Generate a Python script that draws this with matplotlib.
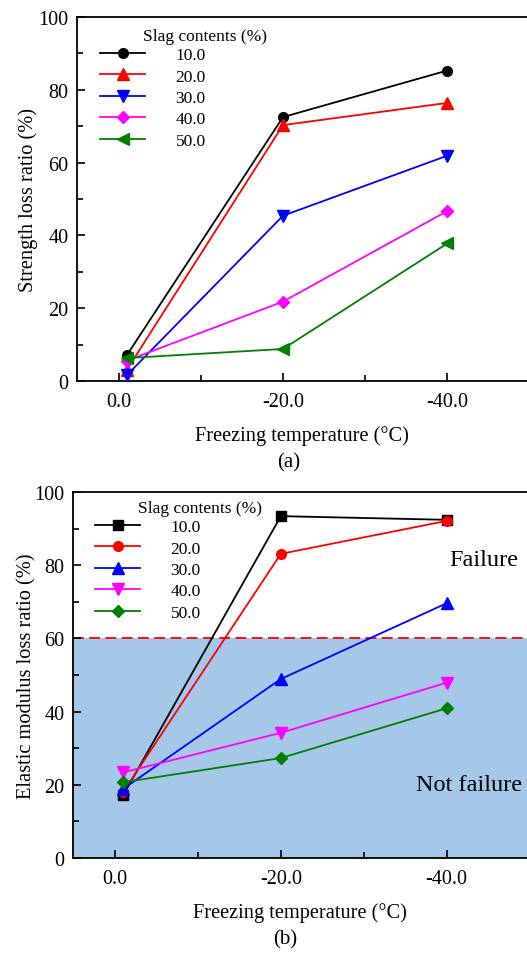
import numpy as np
import matplotlib
matplotlib.use("Agg")
import matplotlib.pyplot as plt
from matplotlib.ticker import MultipleLocator, FixedLocator

plt.rcParams["font.family"] = ["Liberation Serif", "DejaVu Serif"]
plt.rcParams["mathtext.fontset"] = "stix"

# --------------------------------------------------
# Data
# --------------------------------------------------
temps = [-1, -20, -40]
temp_ticks = [0, -20, -40]
temp_labels = ["0.0", "-20.0", "-40.0"]
slag_labels = ["10.0", "20.0", "30.0", "40.0", "50.0"]
colors = ["black", "red", "blue", "magenta", "green"]

strength_loss = [
    [7.1, 72.5, 85.3],
    [3.1, 70.3, 76.4],
    [1.6, 45.4, 61.9],
    [5.6, 21.8, 46.7],
    [6.3, 8.8, 37.8],
]
modulus_loss = [
    [17.2, 93.4, 92.4],
    [18.1, 83.1, 92.1],
    [18.9, 48.9, 69.6],
    [23.4, 34.2, 47.9],
    [20.7, 27.3, 40.9],
]
failure_limit = 60

markers_a = ["o", "^", "v", "D", "<"]
markers_b = ["s", "o", "^", "v", "D"]
msize_a = [7, 8, 8, 6, 8]
msize_b = [6.5, 7, 8, 8, 6.5]

W, H = 527, 954
fig = plt.figure(figsize=(W / 100, H / 100), dpi=100)


def style_axes(ax, ylabel, ylabelpad):
    ax.set_xlim(5.07, -49.7)
    ax.set_ylim(0, 100)
    ax.xaxis.set_major_locator(FixedLocator(temp_ticks))
    ax.set_xticklabels(temp_labels)
    ax.xaxis.set_minor_locator(FixedLocator([-10, -30]))
    ax.yaxis.set_major_locator(MultipleLocator(20))
    ax.yaxis.set_minor_locator(MultipleLocator(10))
    ax.tick_params(which="both", direction="in", labelsize=14.5, width=1.2)
    ax.tick_params(which="major", length=6)
    ax.tick_params(which="minor", length=4)
    ax.tick_params(axis="x", pad=8)
    ax.tick_params(axis="y", pad=6)
    ax.spines["right"].set_visible(False)
    for s in ["left", "bottom", "top"]:
        ax.spines[s].set_linewidth(1.3)
    ax.set_ylabel(ylabel, fontsize=14.7, labelpad=ylabelpad)
    ax.set_xlabel("Freezing temperature (°C)", fontsize=14.7, labelpad=10)


def add_legend(ax, handles, title_xy, anchor):
    leg = ax.legend(handles=handles, labels=slag_labels, loc="upper left",
                    bbox_to_anchor=anchor, bbox_transform=fig.transFigure,
                    frameon=False, fontsize=12.5, handlelength=2.6,
                    handletextpad=1.75, labelspacing=0.3, borderpad=0,
                    borderaxespad=0)
    fig.text(title_xy[0] / W, 1 - title_xy[1] / H, "Slag contents (%)",
             fontsize=12.5, va="center", ha="left")
    return leg


# --------------------------------------------------
# (a) Strength loss ratio
# --------------------------------------------------
ax1 = fig.add_axes([77 / W, 1 - 382 / H, 1 - 77 / W, (382 - 18) / H])
h1 = []
for vals, c, m, ms in zip(strength_loss, colors, markers_a, msize_a):
    ln, = ax1.plot(temps, vals, color=c, marker=m, markersize=ms, lw=1.3,
                   clip_on=False, zorder=3)
    h1.append(ln)
style_axes(ax1, "Strength loss ratio (%)", 0.5)
add_legend(ax1, h1, (143, 37), (100 / W, 1 - 48 / H))
fig.text(0.5 + 25 / W, 1 - 463 / H, "(a)", fontsize=15, ha="center", va="center")

# --------------------------------------------------
# (b) Elastic modulus loss ratio
# --------------------------------------------------
ax2 = fig.add_axes([73 / W, 1 - 859 / H, 1 - 73 / W, (859 - 493) / H])
ax2.axhspan(0, failure_limit, color="#a5c8e8", zorder=0, lw=0)
ax2.axhline(failure_limit, color="red", ls=(0, (6, 3)), lw=1.3, zorder=1)
h2 = []
for vals, c, m, ms in zip(modulus_loss, colors, markers_b, msize_b):
    ln, = ax2.plot(temps, vals, color=c, marker=m, markersize=ms, lw=1.3,
                   clip_on=False, zorder=3)
    h2.append(ln)
style_axes(ax2, "Elastic modulus loss ratio (%)", -1.5)
add_legend(ax2, h2, (138, 509), (95 / W, 1 - 520 / H))
ax2.text(-44.5, 81.6, "Failure", fontsize=17.5, ha="center", va="center")
ax2.text(-42.7, 20, "Not failure", fontsize=17.5, ha="center", va="center")
fig.text(0.5 + 22 / W, 1 - 940 / H, "(b)", fontsize=15, ha="center", va="center")

fig.savefig("out.png", dpi=100)
